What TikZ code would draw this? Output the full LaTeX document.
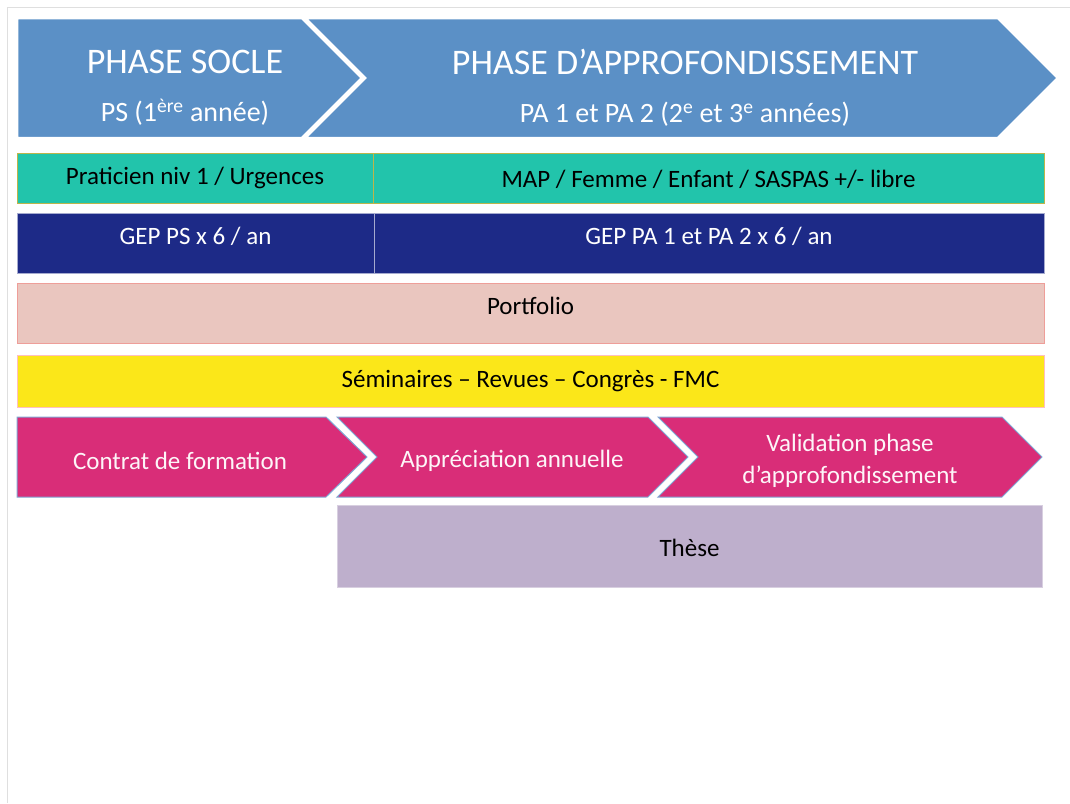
\documentclass[tikz,border=0pt]{standalone}
\usepackage{fontspec}
\setmainfont{Carlito}
\usepackage{tikz}

\definecolor{bleuphase}{HTML}{5B90C6}
\definecolor{turquoise}{HTML}{22C4AB}
\definecolor{bleunuit}{HTML}{1D2A87}
\definecolor{rosepale}{HTML}{EAC6BF}
\definecolor{jaune}{HTML}{FBE719}
\definecolor{fuchsia}{HTML}{D92D78}
\definecolor{mauve}{HTML}{BEAFCC}
\definecolor{bordbleu}{HTML}{7FA6D3}

\tikzstyle{phase} = [
    fill = bleuphase,
    draw = white,
    line width = 2.5pt,
]
\tikzstyle{titre} = [
    text = white,
    align = center,
    inner sep = 0pt,
    font = \fontsize{28}{48}\selectfont,
]
\tikzstyle{bande} = [
    rectangle,
    minimum height = 50pt,
    inner sep = 0pt,
    text height = 17pt,
    text depth = 5pt,
    text centered,
    line width = 0.8pt,
    font = \fontsize{25}{30}\selectfont,
]
\tikzstyle{etape} = [
    fill = fuchsia,
    draw = bordbleu,
    line width = 1pt,
]
\tikzstyle{legende} = [
    text = white!95!fuchsia,
    align = center,
    inner sep = 0pt,
    font = \fontsize{25}{32}\selectfont,
]

\begin{document}
\begin{tikzpicture} [x = 1pt, y = -1pt]
    \useasboundingbox (0, 0) rectangle (1070, 803);
    \draw[gray!25, line width = 1pt] (7, 803) -- (7, 7) -- (1070, 7);

    % phases
    \draw[phase] (305, 18) -- (998, 18) -- (1058, 78) -- (998, 138) -- (305, 138) -- (365, 78) -- cycle;
    \draw[phase] (17, 18) -- (302, 18) -- (362, 78) -- (302, 138) -- (17, 138) -- cycle;
    \node (Socle) [titre] at (185, 88) {{\fontsize{36}{48}\selectfont PHASE SOCLE}\\PS (1\textsuperscript{ère} année)};
    \node (Approfondissement) [titre] at (685, 88) {{\fontsize{36}{48}\selectfont PHASE D’APPROFONDISSEMENT}\\PA 1 et PA 2 (2\textsuperscript{e} et 3\textsuperscript{e} années)};

    % stages
    \node (Praticien) [bande, fill = turquoise, draw = olive!60, minimum width = 356pt] at (195, 178) {Praticien niv 1 / Urgences};
    \node (MAP) [bande, fill = turquoise, draw = olive!60, minimum width = 671pt, text height = 23pt] at (708.5, 178) {MAP / Femme / Enfant / SASPAS +/- libre};

    % groupes d'echange de pratiques
    \node (GEPPS) [bande, fill = bleunuit, draw = bleunuit!40, text = white, minimum width = 357pt, minimum height = 60pt, text depth = 15pt] at (195.5, 243) {GEP PS x 6 / an};
    \node (GEPPA) [bande, fill = bleunuit, draw = bleunuit!40, text = white, minimum width = 670pt, minimum height = 60pt, text depth = 15pt] at (709, 243) {GEP PA 1 et PA 2 x 6 / an};

    \node (Portfolio) [bande, fill = rosepale, draw = rosepale!80!red, minimum width = 1027pt, minimum height = 60pt, text depth = 15pt] at (530.5, 313) {Portfolio};
    \node (Seminaires) [bande, fill = jaune, draw = red!25, minimum width = 1027pt, minimum height = 52pt] at (530.5, 381) {Séminaires – Revues – Congrès - FMC};

    % evaluation
    \draw[etape] (17, 417) -- (326, 417) -- (367, 457) -- (326, 497) -- (17, 497) -- cycle;
    \draw[etape] (337, 417) -- (648, 417) -- (688, 457) -- (648, 497) -- (337, 497) -- (377, 457) -- cycle;
    \draw[etape] (658, 417) -- (1002, 417) -- (1042, 457) -- (1002, 497) -- (658, 497) -- (698, 457) -- cycle;
    \node (Contrat) [legende] at (180, 461) {Contrat de formation};
    \node (Appreciation) [legende] at (512, 461) {Appréciation annuelle};
    \node (Validation) [legende] at (850, 461) {Validation phase\\d’approfondissement};

    \node (These) [bande, fill = mauve, draw = mauve!60, minimum width = 705pt, minimum height = 82pt, text height = 25pt] at (689.5, 546) {Thèse};
\end{tikzpicture}
\end{document}
